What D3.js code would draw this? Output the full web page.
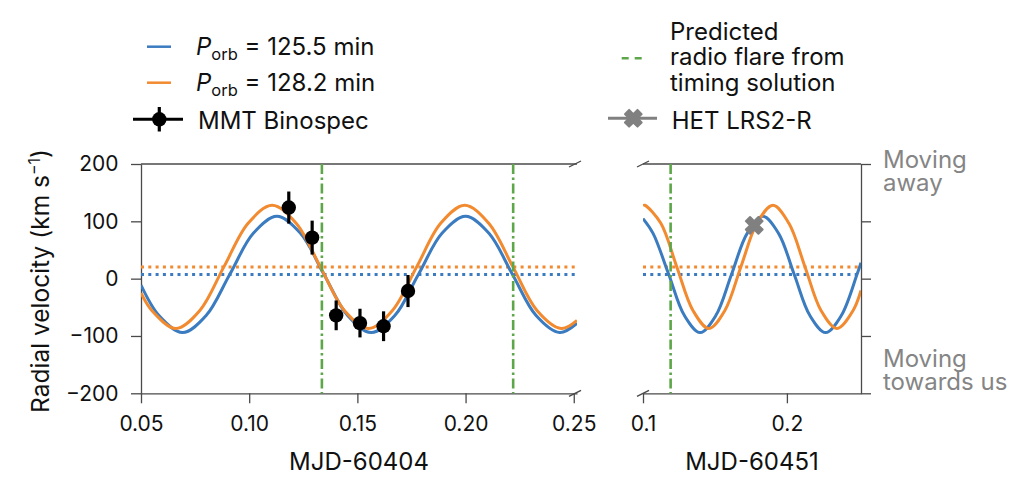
<!DOCTYPE html>
<html>
<head>
<meta charset="utf-8">
<script src="https://cdn.jsdelivr.net/npm/d3@7"></script>
<style>
  body { margin: 0; background: #fff; }
  text { font-family: Inter, "Noto Sans", sans-serif; fill: #111; }
</style>
</head>
<body>
<div id="graph"></div>
<script>
// model curves, [MJD fraction, km/s]
const blueLeft = [[0.05,-11.3],[0.0583,-64.4],[0.0692,-94.1],[0.0801,-64.4],[0.0910,7.3],[0.1019,79.0],
  [0.1128,108.7],[0.1237,79.0],[0.1346,7.3],[0.1455,-64.4],[0.1564,-94.1],[0.1673,-64.4],[0.1782,7.3],
  [0.1891,79.0],[0.2000,108.7],[0.2108,79.0],[0.2217,7.3],[0.2326,-64.4],[0.2435,-94.1],[0.2515,-77.8]];
const orangeLeft = [[0.05,-24.9],[0.0550,-55.5],[0.0661,-87.0],[0.0772,-55.5],[0.0883,20.5],[0.0995,96.5],
  [0.1106,128.0],[0.1217,96.5],[0.1329,20.5],[0.1440,-55.5],[0.1551,-87.0],[0.1662,-55.5],[0.1774,20.5],
  [0.1885,96.5],[0.1996,128.0],[0.2107,96.5],[0.2219,20.5],[0.2330,-55.5],[0.2442,-87.0],[0.2515,-72.8]];
const blueRight = [[0.1,104.8],[0.1070,79.0],[0.1179,7.3],[0.1288,-64.4],[0.1397,-94.1],[0.1506,-64.4],
  [0.1615,7.3],[0.1724,79.0],[0.1833,108.7],[0.1942,79.0],[0.2051,7.3],[0.2160,-64.4],[0.2269,-94.1],
  [0.2378,-64.4],[0.2487,7.3],[0.2515,27.9]];
const orangeRight = [[0.1,127.6],[0.1013,128.0],[0.1124,96.5],[0.1235,20.5],[0.1347,-55.5],[0.1458,-87.0],
  [0.1569,-55.5],[0.1680,20.5],[0.1792,96.5],[0.1903,128.0],[0.2014,96.5],[0.2126,20.5],[0.2237,-55.5],
  [0.2348,-87.0],[0.2460,-55.5],[0.2515,-20.7]];

// systemic velocities (blue, orange)
const gammaVals = [7.3, 20.5];

// MMT Binospec points
const mmtX = [0.1183, 0.1291, 0.1402, 0.1512, 0.1621, 0.1734];
const mmtY = [124, 71.6, -64, -77.5, -83, -21.6];
const mmtErr = [28, 29.6, 26, 25, 26, 28];

// HET LRS2-R
const hetX = [0.1773];
const hetY = [93];

// predicted radio flares
const flareLeft = [0.1336, 0.2220];
const flareRight = [0.1192];

const yTicks = [-200, -100, 0, 100, 200];
const leftTicks = [0.05, 0.10, 0.15, 0.20, 0.25];
const rightTicks = [0.1, 0.2];

const blue = "#3b7bbf", orange = "#f28a30", green = "#5ea64a", gray = "#808080", spine = "#4a4a4a";

let svg = d3.select("#graph").append("svg")
  .attr("width", 1024).attr("height", 487);

let xL = d3.scaleLinear().domain([0.05, 0.2515]).range([141, 577]);
let xR = d3.scaleLinear().domain([0.1, 0.2515]).range([643, 861]);
let y = d3.scaleLinear().domain([-200, 200]).range([393.3, 164]);

let defs = svg.append("defs");
defs.append("clipPath").attr("id", "clipL").append("rect")
  .attr("x", 141).attr("y", 150).attr("width", 436).attr("height", 260);
defs.append("clipPath").attr("id", "clipR").append("rect")
  .attr("x", 643).attr("y", 150).attr("width", 218).attr("height", 260);

function styleAxis(g) {
  g.selectAll("path.domain").attr("stroke", spine).attr("stroke-width", 1.3);
  g.selectAll(".tick line").attr("stroke", spine).attr("stroke-width", 1.3);
  g.selectAll(".tick text").style("font-size", "21px").style("font-family", "Inter, sans-serif").attr("fill", "#111");
}

// axes
svg.append("g").attr("transform", "translate(0," + y(-200) + ")")
  .call(d3.axisBottom(xL).tickValues(leftTicks).tickFormat(d3.format(".2f")).tickSize(10).tickSizeOuter(0).tickPadding(12.5))
  .call(styleAxis);
svg.append("g").attr("transform", "translate(0," + y(-200) + ")")
  .call(d3.axisBottom(xR).tickValues(rightTicks).tickFormat(d3.format(".1f")).tickSize(10).tickSizeOuter(0).tickPadding(12.5))
  .call(styleAxis);
svg.append("g").attr("transform", "translate(" + xL.range()[0] + ",0)")
  .call(d3.axisLeft(y).tickValues(yTicks).tickSize(10).tickSizeOuter(0).tickPadding(12.5))
  .call(styleAxis);
svg.append("g").attr("transform", "translate(" + xR.range()[1] + ",0)")
  .call(d3.axisRight(y).tickValues(yTicks).tickFormat("").tickSize(10).tickSizeOuter(0))
  .call(styleAxis);

// top spines
[xL, xR].forEach(s => {
  svg.append("line").attr("x1", s.range()[0]).attr("x2", s.range()[1])
    .attr("y1", y(200)).attr("y2", y(200)).attr("stroke", spine).attr("stroke-width", 1.3);
});

// axis break marks
[[xL.range()[1] - 2, y(200)], [xL.range()[1] - 2, y(-200)], [xR.range()[0], y(200)], [xR.range()[0], y(-200)]]
  .forEach(p => {
    svg.append("line").attr("x1", p[0] - 6).attr("y1", p[1] + 3).attr("x2", p[0] + 6).attr("y2", p[1] - 3)
      .attr("stroke", spine).attr("stroke-width", 1.3);
  });

function panel(x, clip, blueD, orangeD, flares) {
  let g = svg.append("g").attr("clip-path", "url(#" + clip + ")");
  // systemic velocity lines
  gammaVals.forEach((gv, i) => {
    g.append("line").attr("x1", x.range()[0]).attr("x2", x.range()[1] - 2)
      .attr("y1", y(gv)).attr("y2", y(gv))
      .attr("stroke", i == 0 ? blue : orange).attr("stroke-width", 3)
      .attr("stroke-dasharray", "3,4.3");
  });
  let line = d3.line().x(d => x(d[0])).y(d => y(d[1])).curve(d3.curveCatmullRom.alpha(0.5));
  g.append("path").attr("d", line(blueD)).attr("fill", "none").attr("stroke", blue).attr("stroke-width", 3);
  g.append("path").attr("d", line(orangeD)).attr("fill", "none").attr("stroke", orange).attr("stroke-width", 3);
  flares.forEach(f => {
    g.append("line").attr("x1", x(f)).attr("x2", x(f)).attr("y1", y(200)).attr("y2", y(-200))
      .attr("stroke", green).attr("stroke-width", 2.6).attr("stroke-dasharray", "10,3.5,2.5,3.5");
  });
  return g;
}

let gl = panel(xL, "clipL", blueLeft, orangeLeft, flareLeft);
let gr = panel(xR, "clipR", blueRight, orangeRight, flareRight);

// MMT points
mmtX.forEach((mx, i) => {
  gl.append("line").attr("x1", xL(mx)).attr("x2", xL(mx))
    .attr("y1", y(mmtY[i] - mmtErr[i])).attr("y2", y(mmtY[i] + mmtErr[i]))
    .attr("stroke", "#000").attr("stroke-width", 3.2);
  gl.append("circle").attr("cx", xL(mx)).attr("cy", y(mmtY[i])).attr("r", 7.2).attr("fill", "#000");
});

// HET point
const xMark = d3.symbol().type(d3.symbolCross).size(175);
hetX.forEach((hx, i) => {
  gr.append("path").attr("d", xMark())
    .attr("transform", "translate(" + xR(hx) + "," + y(hetY[i]) + ") rotate(45)")
    .attr("fill", gray).attr("stroke", gray).attr("stroke-width", 2).attr("stroke-linejoin", "round");
});

// axis labels
svg.append("text").attr("x", 359).attr("y", 470).attr("text-anchor", "middle")
  .style("font-size", "24px").text("MJD-60404");
svg.append("text").attr("x", 752).attr("y", 470).attr("text-anchor", "middle")
  .style("font-size", "24px").text("MJD-60451");

let yl = svg.append("text").attr("transform", "translate(49,281) rotate(-90)")
  .attr("text-anchor", "middle").style("font-size", "24.5px");
yl.append("tspan").text("Radial velocity (km s");
yl.append("tspan").attr("dy", -9).style("font-size", "16px").text("\u22121");
yl.append("tspan").attr("dy", 9).text(")");

// direction notes
[[["Moving", "away"], 168], [["Moving", "towards us"], 367.3]].forEach(t => {
  let tx = svg.append("text").attr("x", 883).attr("y", t[1]).style("font-size", "24px").style("fill", "#858585");
  tx.append("tspan").attr("x", 883).text(t[0][0]);
  tx.append("tspan").attr("x", 883).attr("dy", 22.7).text(t[0][1]);
});

// legend
function porb(yb, val) {
  let t = svg.append("text").attr("x", 196).attr("y", yb).style("font-size", "24px");
  t.append("tspan").style("font-style", "italic").text("P");
  t.append("tspan").attr("dy", 5.5).style("font-size", "16.5px").text("orb");
  t.append("tspan").attr("dy", -5.5).text(" = " + val + " min");
}
svg.append("line").attr("x1", 147).attr("x2", 171).attr("y1", 46.7).attr("y2", 46.7)
  .attr("stroke", blue).attr("stroke-width", 2.5);
porb(54.5, "125.5");
svg.append("line").attr("x1", 147).attr("x2", 171).attr("y1", 82.7).attr("y2", 82.7)
  .attr("stroke", orange).attr("stroke-width", 2.5);
porb(90.5, "128.2");

svg.append("line").attr("x1", 133).attr("x2", 183).attr("y1", 119.3).attr("y2", 119.3)
  .attr("stroke", "#000").attr("stroke-width", 3);
svg.append("line").attr("x1", 159.3).attr("x2", 159.3).attr("y1", 107).attr("y2", 131.5)
  .attr("stroke", "#000").attr("stroke-width", 3.2);
svg.append("circle").attr("cx", 159.3).attr("cy", 119.3).attr("r", 7.2).attr("fill", "#000");
svg.append("text").attr("x", 198).attr("y", 128.5).style("font-size", "24px").text("MMT Binospec");

svg.append("line").attr("x1", 621.7).attr("x2", 641.7).attr("y1", 58.3).attr("y2", 58.3)
  .attr("stroke", green).attr("stroke-width", 2.5).attr("stroke-dasharray", "7,6");
let pr = svg.append("text").attr("x", 670).attr("y", 40).style("font-size", "24px");
[["Predicted", 0], ["radio flare from", 25.3], ["timing solution", 25.3]].forEach(t => {
  pr.append("tspan").attr("x", 670).attr("dy", t[1]).text(t[0]);
});

svg.append("line").attr("x1", 608).attr("x2", 657).attr("y1", 118.3).attr("y2", 118.3)
  .attr("stroke", gray).attr("stroke-width", 3);
svg.append("path").attr("d", xMark()).attr("transform", "translate(633.3,118.3) rotate(45)")
  .attr("fill", gray).attr("stroke", gray).attr("stroke-width", 2).attr("stroke-linejoin", "round");
svg.append("text").attr("x", 671.7).attr("y", 128.5).style("font-size", "24px").text("HET LRS2-R");
</script>
</body>
</html>
